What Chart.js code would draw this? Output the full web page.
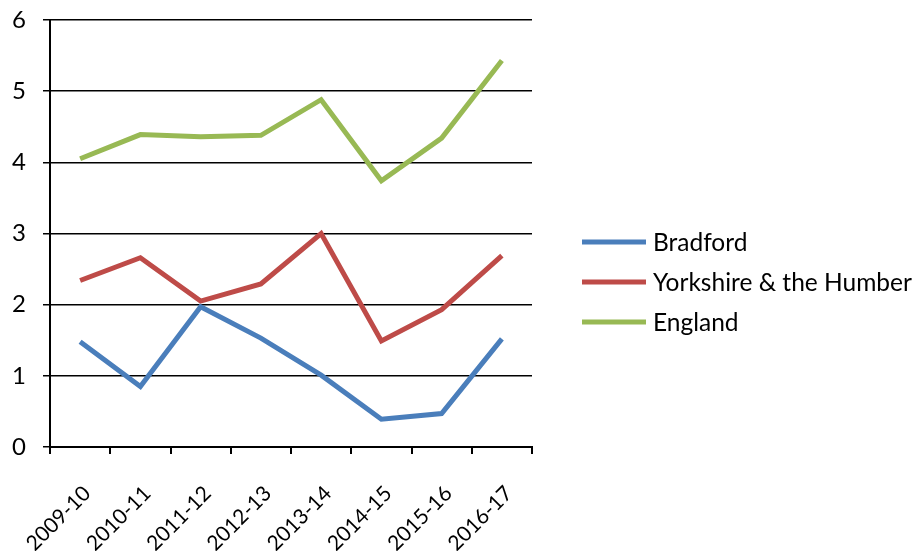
<!DOCTYPE html>
<html>
<head>
<meta charset="utf-8">
<script src="https://cdn.jsdelivr.net/npm/chart.js@4/dist/chart.umd.min.js"></script>
<style>
  html, body { margin: 0; padding: 0; background: #ffffff; }
  #wrap { width: 918px; height: 551px; }
</style>
</head>
<body>
<div id="wrap"><canvas id="c" width="918" height="551"></canvas></div>
<script>
const categories = ["2009-10", "2010-11", "2011-12", "2012-13", "2013-14", "2014-15", "2015-16", "2016-17"];
const bradford = [1.48, 0.85, 1.97, 1.53, 1.01, 0.39, 0.47, 1.52];
const yorkshire = [2.34, 2.66, 2.05, 2.29, 3.00, 1.49, 1.93, 2.69];
const england = [4.05, 4.39, 4.36, 4.38, 4.88, 3.74, 4.34, 5.43];
const seriesNames = ["Bradford", "Yorkshire & the Humber", "England"];
const yTicks = [0, 1, 2, 3, 4, 5, 6];

const FONT = "Lato, 'Liberation Sans', sans-serif";
const colors = ["#4A7EBB", "#BE4B48", "#98B954"];

const sideLegend = {
  id: 'sideLegend',
  afterDraw(chart) {
    const ctx = chart.ctx;
    const area = chart.chartArea;
    const n = chart.data.datasets.length;
    const gap = 40;
    const cy = area.bottom - 165;
    const lx = area.right + 50;
    ctx.save();
    ctx.font = "24.5px " + FONT;
    ctx.textBaseline = 'middle';
    ctx.textAlign = 'left';
    chart.data.datasets.forEach((ds, i) => {
      const y = cy + (i - (n - 1) / 2) * gap;
      ctx.strokeStyle = ds.borderColor;
      ctx.lineWidth = 5;
      ctx.beginPath();
      ctx.moveTo(lx, y);
      ctx.lineTo(lx + 64, y);
      ctx.stroke();
      ctx.fillStyle = '#000';
      ctx.fillText(ds.label, lx + 71, y + 1);
    });
    ctx.restore();
  }
};

new Chart(document.getElementById('c'), {
  type: 'line',
  data: {
    labels: categories,
    datasets: [
      { label: seriesNames[0], data: bradford, borderColor: colors[0], backgroundColor: colors[0] },
      { label: seriesNames[1], data: yorkshire, borderColor: colors[1], backgroundColor: colors[1] },
      { label: seriesNames[2], data: england, borderColor: colors[2], backgroundColor: colors[2] }
    ]
  },
  options: {
    responsive: false,
    animation: false,
    devicePixelRatio: 1,
    layout: { padding: { top: 20, right: 386, left: 0, bottom: 0 } },
    elements: {
      line: { borderWidth: 5, tension: 0, borderCapStyle: 'butt', borderJoinStyle: 'miter' },
      point: { radius: 0, hoverRadius: 0 }
    },
    plugins: {
      legend: { display: false },
      tooltip: { enabled: false }
    },
    scales: {
      x: {
        type: 'category',
        offset: true,
        grid: { display: true, offset: true, drawOnChartArea: false, drawTicks: true, tickLength: 7, color: '#000', lineWidth: 2 },
        border: { display: true, color: '#000', width: 2 },
        ticks: { color: '#000', font: { size: 21, family: FONT }, minRotation: 45, maxRotation: 45, padding: 27, labelOffset: 7, autoSkip: false },
        afterFit(scale) { scale.height = 104; scale.paddingLeft = 0; scale.paddingRight = 0; }
      },
      y: {
        min: 0, max: 6,
        afterBuildTicks(scale) { scale.ticks = yTicks.map(v => ({ value: v })); },
        grid: { color: '#000', lineWidth: 1.5, drawTicks: true, tickLength: 7 },
        border: { display: true, color: '#000', width: 2 },
        ticks: { color: '#000', font: { size: 24, family: FONT }, padding: 17 },
        afterFit(scale) { scale.width = 50; scale.paddingTop = 0; scale.paddingBottom = 0; }
      }
    }
  },
  plugins: [sideLegend]
});
</script>
</body>
</html>
